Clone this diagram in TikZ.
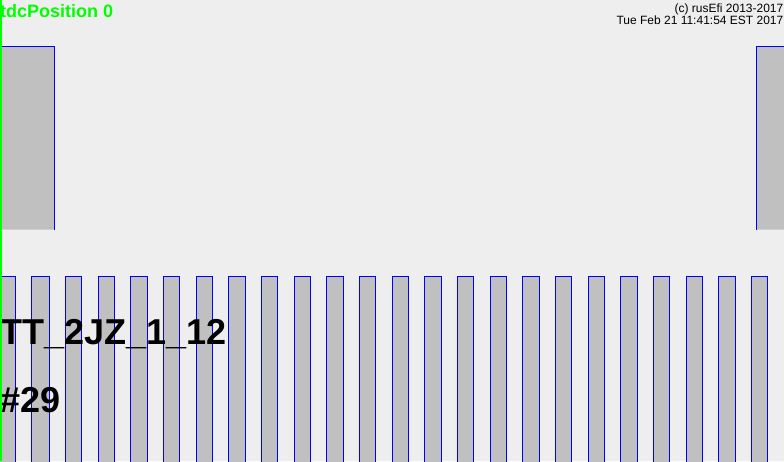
\documentclass[tikz,border=0pt]{standalone}
\usepackage{fontspec}
\setmainfont{Liberation Sans}
\definecolor{bgback}{HTML}{EEEEEE}
\definecolor{toothgray}{HTML}{C0C0C0}
\definecolor{tdcgreen}{RGB}{0,255,0}
\begin{document}
\begin{tikzpicture}[x=1pt,y=-1pt]
  \fill[bgback] (0,0) rectangle (784,461);
  \useasboundingbox (0,0) rectangle (784,461);
  % upper row, one wide tooth wrapping round
  \fill[toothgray] (0,46.5) rectangle (54.5,229.5) (756.5,46.5) rectangle (784,229.5);
  \draw[blue,line width=1pt] (-1,46.5) -- (54.5,46.5) -- (54.5,229.5);
  \draw[blue,line width=1pt] (756.5,229.5) -- (756.5,46.5) -- (785,46.5);
  % lower row, 24 teeth
  \fill[toothgray] (-1,276.5) rectangle (15.5,462);
  \draw[blue,line width=1pt] (-1,276.5) -- (15.5,276.5) -- (15.5,462);
  \fill[toothgray] (31.5,276.5) rectangle (49.5,462);
  \draw[blue,line width=1pt] (31.5,462) -- (31.5,276.5) -- (49.5,276.5) -- (49.5,462);
  \foreach \k in {2,...,23} {
    \pgfmathsetmacro{\xl}{32.667*\k+0.2}
    \pgfmathsetmacro{\xr}{\xl+16.3}
    \fill[toothgray] (\xl,276.5) rectangle (\xr,462);
    \draw[blue,line width=1pt] (\xl,462) -- (\xl,276.5) -- (\xr,276.5) -- (\xr,462);
  }
  % texts
  \node[anchor=base west,inner sep=0,text=tdcgreen,font=\fontsize{18}{18}\selectfont\bfseries] (tdc) at (0,17.5) {tdcPosition 0};
  \node[anchor=base east,inner sep=0,font=\fontsize{12}{12}\selectfont] (copy) at (783.5,12) {(c) rusEf\kern0pt i 2013-2017};
  \node[anchor=base east,inner sep=0,font=\fontsize{12}{12}\selectfont] (stamp) at (783.5,24) {Tue Feb 21 11:41:54 EST 2017};
  \node[anchor=base west,inner sep=0,font=\fontsize{36}{36}\selectfont\bfseries] (name) at (0,344) {TT\_2JZ\_1\_12};
  \node[anchor=base west,inner sep=0,font=\fontsize{36}{36}\selectfont\bfseries] (id) at (0,412.5) {\#29};
  % tdc marker
  \draw[tdcgreen,line width=1.5pt] (0.75,0) -- (0.75,461);
\end{tikzpicture}
\end{document}
